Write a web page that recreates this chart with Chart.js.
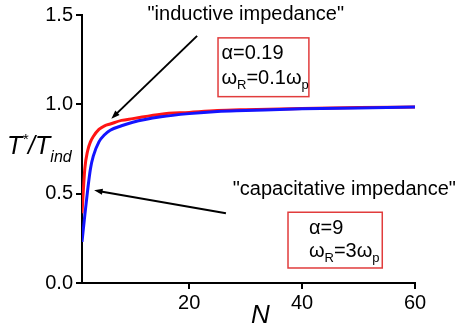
<!DOCTYPE html>
<html>
<head>
<meta charset="utf-8">
<script src="https://cdn.jsdelivr.net/npm/chart.js@4.4.0/dist/chart.umd.min.js"></script>
<style>
  body { margin: 0; background: #fff; }
</style>
</head>
<body>
<canvas id="c" width="456" height="332"></canvas>
<script>
// values
const nValues = [1, 1.5, 2, 2.5, 3, 4, 5, 6, 8, 10, 15, 20, 25, 30, 40, 50, 60];
const inductive = [0.39, 0.64, 0.74, 0.79, 0.82, 0.86, 0.88, 0.89, 0.91, 0.92, 0.945, 0.955, 0.965, 0.97, 0.977, 0.982, 0.985];
const capacitative = [0.23, 0.38, 0.52, 0.64, 0.71, 0.79, 0.83, 0.855, 0.88, 0.9, 0.93, 0.948, 0.96, 0.965, 0.975, 0.98, 0.985];
const xTicks = [20, 40, 60];

const FONT = '"Liberation Sans", Arial, sans-serif';

const toPoints = (ys) => nValues.map((n, i) => ({x: n, y: ys[i]}));

// draws a run of text pieces: [text, size, italic, dy]
function richText(ctx, x, y, parts) {
    ctx.textBaseline = 'alphabetic';
    ctx.textAlign = 'left';
    parts.forEach(([t, size, italic, dy]) => {
        ctx.font = (italic ? 'italic ' : '') + size + 'px ' + FONT;
        ctx.fillText(t, x, y + (dy || 0));
        x += ctx.measureText(t).width;
    });
}

function arrow(ctx, x1, y1, x2, y2) {
    const ang = Math.atan2(y2 - y1, x2 - x1);
    const head = 9;
    ctx.beginPath();
    ctx.moveTo(x1, y1);
    ctx.lineTo(x2 - Math.cos(ang) * 4, y2 - Math.sin(ang) * 4);
    ctx.lineWidth = 2;
    ctx.strokeStyle = '#000';
    ctx.stroke();
    ctx.beginPath();
    ctx.moveTo(x2, y2);
    ctx.lineTo(x2 - head * Math.cos(ang - 0.35), y2 - head * Math.sin(ang - 0.35));
    ctx.lineTo(x2 - head * Math.cos(ang + 0.35), y2 - head * Math.sin(ang + 0.35));
    ctx.closePath();
    ctx.fillStyle = '#000';
    ctx.fill();
}

const notes = {
    id: 'notes',
    afterDraw(chart) {
        const {ctx, scales: {x, y}} = chart;
        const px = (n) => x.getPixelForValue(n);
        const py = (v) => y.getPixelForValue(v);
        ctx.save();
        ctx.fillStyle = '#000';

        // axis titles
        richText(ctx, 7, 154, [['T', 25, true], ['*', 15, true, -10], ['/T', 25, true], ['ind', 16, true, 8]]);
        richText(ctx, 251, 323, [['N', 26, true]]);

        // inductive
        richText(ctx, px(12.6), 20, [['"inductive impedance"', 20, false]]);
        arrow(ctx, px(21.4), py(1.383), px(6.2), py(0.92));
        ctx.strokeStyle = 'rgb(225,60,60)';
        ctx.lineWidth = 1.5;
        ctx.strokeRect(px(25.1), py(1.372), px(41.2) - px(25.1), py(1.043) - py(1.372));
        ctx.fillStyle = '#000';
        richText(ctx, px(25.7), 59, [['α=0.19', 20, false]]);
        richText(ctx, px(25.7), 84, [['ω', 20, false], ['R', 13, false, 5], ['=0.1ω', 20, false], ['p', 13, false, 5]]);

        // capacitative
        richText(ctx, px(27.7), 195, [['"capacitative impedance"', 20, false]]);
        arrow(ctx, px(26.5), py(0.39), px(3.15), py(0.519));
        ctx.strokeStyle = 'rgb(225,60,60)';
        ctx.lineWidth = 1.5;
        ctx.strokeRect(px(37.5), py(0.396), px(54.2) - px(37.5), py(0.084) - py(0.396));
        ctx.fillStyle = '#000';
        richText(ctx, px(41.2), 234, [['α=9', 20, false]]);
        richText(ctx, px(41.2), 257, [['ω', 20, false], ['R', 13, false, 5], ['=3ω', 20, false], ['p', 13, false, 5]]);

        ctx.restore();
    }
};

new Chart(document.getElementById('c').getContext('2d'), {
    type: 'line',
    data: {
        datasets: [
            {
                label: 'capacitative',
                data: toPoints(capacitative),
                borderColor: 'rgb(20,20,255)',
                borderWidth: 3,
                pointRadius: 0,
                cubicInterpolationMode: 'monotone',
                order: 0
            },
            {
                label: 'inductive',
                data: toPoints(inductive),
                borderColor: 'rgb(255,20,20)',
                borderWidth: 3,
                pointRadius: 0,
                cubicInterpolationMode: 'monotone',
                order: 1
            }
        ]
    },
    options: {
        responsive: false,
        animation: false,
        layout: { padding: { left: 0, right: 41, top: 14, bottom: 0 } },
        plugins: {
            legend: { display: false },
            tooltip: { enabled: false }
        },
        scales: {
            x: {
                type: 'linear',
                min: 1,
                max: 60,
                afterBuildTicks: (scale) => { scale.ticks = xTicks.map(v => ({value: v})); },
                afterFit: (scale) => { scale.height = 49; },
                border: { color: '#000', width: 2 },
                grid: { drawOnChartArea: false, drawTicks: true, tickLength: 6, color: '#000', lineWidth: 2 },
                ticks: { color: '#000', font: { family: FONT, size: 20 }, padding: 2, maxRotation: 0 }
            },
            y: {
                min: 0,
                max: 1.5,
                afterFit: (scale) => { scale.width = 82; },
                border: { color: '#000', width: 2 },
                grid: { drawOnChartArea: false, drawTicks: true, tickLength: 6, color: '#000', lineWidth: 2 },
                ticks: {
                    stepSize: 0.5,
                    color: '#000',
                    font: { family: FONT, size: 20 },
                    padding: 3,
                    callback: (v) => v.toFixed(1)
                }
            }
        }
    },
    plugins: [notes]
});
</script>
</body>
</html>
